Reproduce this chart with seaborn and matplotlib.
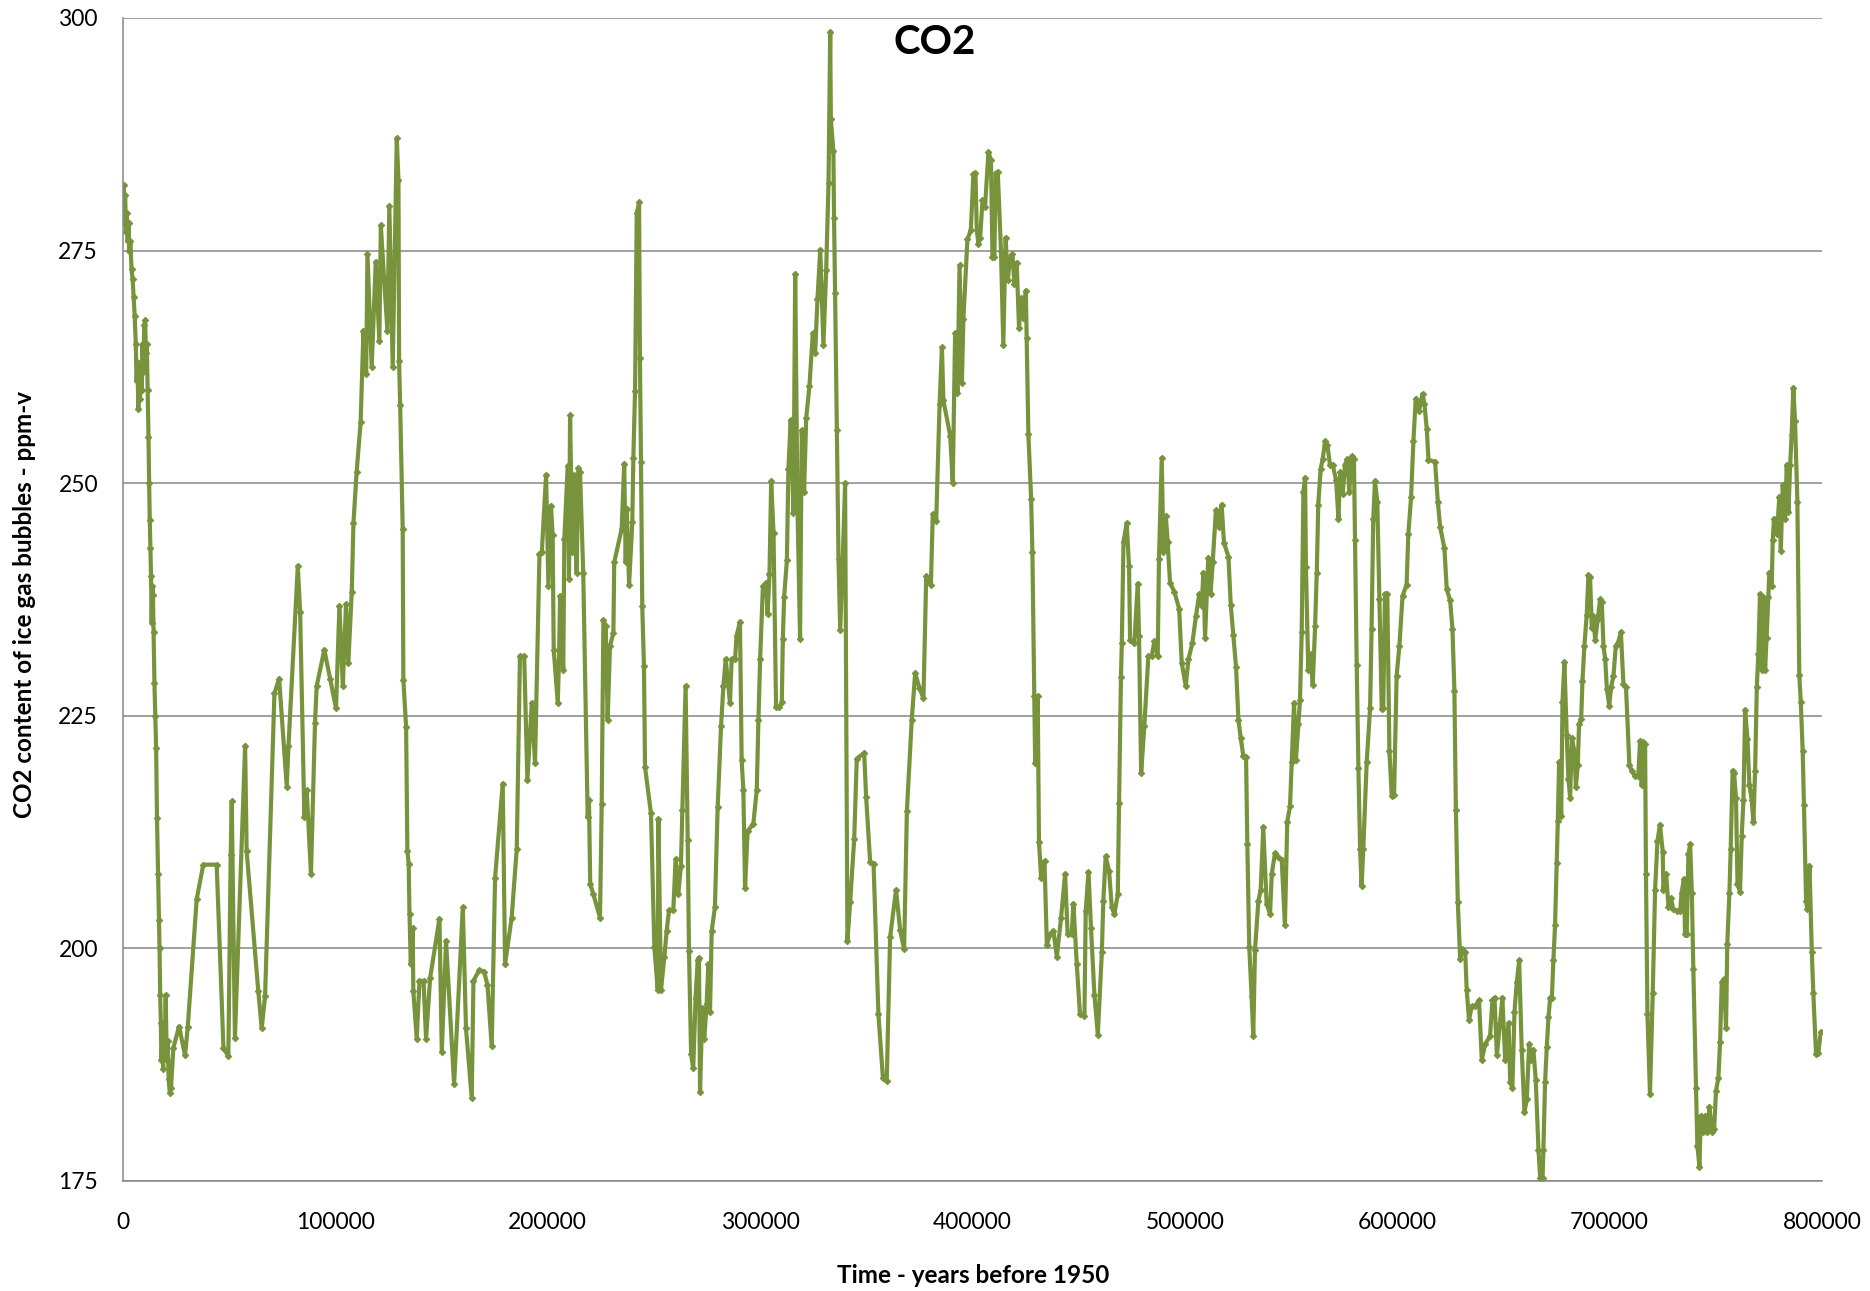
import matplotlib
matplotlib.use("Agg")
import matplotlib.pyplot as plt
import seaborn as sns
import pandas as pd

# ---- data: age (thousand years before 1950) and CO2 (ppm-v) ----
age_kyr = [
    0, 0.3, 0.6, 1.0, 1.4, 1.8, 2.2, 2.6, 3.0, 3.5, 4.0, 4.5, 5.0, 5.5, 6.0, 6.4, 6.8, 7.2, 7.6, 8.0,
    8.4, 8.8, 9.2, 9.6, 10.0, 10.4, 10.8, 11.2, 11.6, 12.0, 12.3, 12.6, 12.9, 13.2, 13.5, 13.8, 14.1, 14.4,
    14.8, 15.2, 15.6, 16.0, 16.5, 16.9, 17.2, 17.5, 17.8, 18.1, 18.5, 18.9, 19.3, 19.7, 20.1, 20.6, 21.0,
    21.5, 22.0, 22.6,
    23.7, 26.4, 29.2, 30.5, 34.7, 37.8, 44.1, 47.3, 49.6, 50.7, 51.2, 52.7, 57.5, 58.2, 63.7, 65.3, 66.9,
    71.3, 73.5, 77.1, 77.9, 82.3, 83.4, 85.4, 86.5, 88.5, 90.4, 91.2, 94.8, 97.5,
    100.3, 101.9, 103.5, 105.0, 106.1, 107.7, 108.5, 110.0, 111.9, 113.2, 114.5, 115.1, 117.1, 119.0,
    120.7, 121.4, 122.9, 124.5, 125.4, 127.0, 128.9, 129.7, 130.0, 130.5, 131.7, 132.0, 133.3, 133.9,
    134.5, 134.9, 135.5, 136.4, 136.7, 138.3, 139.6, 141.5, 142.7, 144.6, 149.0, 150.1, 152.1, 155.9,
    160.0, 161.5, 164.2, 165.0, 167.8, 170.0, 171.6, 173.6, 175.2, 178.8, 179.9, 183.0, 185.4, 186.9,
    188.9, 190.4, 192.5, 194.0, 196.1, 197.2, 199.2,
    200.3, 201.5, 202.3, 202.8, 204.7, 205.3, 205.8, 207.3, 207.8, 209.4, 210.0, 210.5, 211.6, 212.5,
    213.6, 214.4, 215.2, 216.7, 218.8, 219.4, 220.0, 221.5, 224.6, 225.4, 226.2, 227.3, 228.2, 229.3,
    230.9, 231.3, 234.8, 236.0, 236.7, 237.2, 238.3, 239.8, 240.3, 241.1, 241.9, 243.0, 243.4, 243.9,
    244.5, 245.3, 245.8, 248.6, 250.2, 251.8, 252.1, 253.3, 254.9, 256.0, 257.1, 259.1, 260.2, 261.5,
    262.7, 263.4, 264.9, 265.9, 266.5, 267.5, 268.5, 269.6, 270.6, 271.2, 271.7, 272.8, 273.7, 274.8,
    275.6, 276.4, 277.2, 278.7, 280.0, 281.6, 282.7, 283.8, 284.7, 285.8, 286.6, 288.2, 288.9, 290.5,
    291.3, 292.1, 292.9, 294.1, 296.8, 298.4, 299.2, 300.0,
    301.3, 302.8, 303.5, 304.4, 305.2, 306.3, 307.5, 309.1, 310.2, 310.7, 311.3, 312.6, 313.3, 314.4,
    315.7, 316.5, 317.6, 318.8, 319.6, 320.7, 321.7, 323.2, 324.8, 325.9, 327.0, 328.3, 329.8, 331.1,
    332.2, 333.0, 333.3, 334.5, 334.8, 335.3, 336.1, 336.9, 337.7, 338.9, 340.0, 341.1, 342.4, 344.3,
    345.5, 349.0, 349.9, 351.8, 353.4, 355.7, 357.8, 359.6, 361.2, 364.0, 365.9, 367.8, 369.1, 371.4,
    373.0, 375.0, 376.9, 378.2, 380.4, 381.3, 382.9, 384.5, 385.6, 386.3, 389.5, 390.7, 391.8, 392.9,
    393.9, 395.0, 395.7, 397.6, 399.2, 400.4,
    401.4, 402.0, 402.8, 403.6, 404.7, 405.9, 407.5, 408.7, 409.4, 410.3, 410.9, 411.9, 413.4, 414.5,
    415.6, 416.6, 417.7, 418.8, 419.7, 420.8, 421.9, 422.9, 424.0, 425.1, 425.5, 426.3, 427.6, 428.2,
    429.1, 429.5, 430.7, 431.3, 432.3, 433.9, 435.0, 436.5, 438.1, 439.7, 441.7, 443.6, 444.8, 446.7,
    447.5, 449.1, 450.6, 452.7, 453.3, 454.6, 455.8, 457.4, 459.0, 460.9, 461.6, 462.7, 464.3, 465.6,
    466.8, 468.4, 469.0, 469.9, 470.3, 471.1, 472.6, 473.7, 474.2, 476.2, 477.8, 478.4, 479.4, 480.9,
    482.8, 484.4, 485.6, 487.2, 487.8, 489.1, 489.9, 491.0, 491.9, 493.0, 495.1, 497.3, 498.5, 500.4,
    501.7, 503.5,
    505.2, 506.8, 507.9, 508.7, 509.5, 511.0, 512.1, 513.1, 514.6, 516.2, 517.3, 518.4, 520.5, 521.6,
    522.8, 524.1, 525.2, 526.3, 527.5, 528.8, 529.4, 530.3, 531.4, 532.2, 533.0, 534.6, 535.7, 536.9,
    538.5, 540.1, 540.9, 542.4, 544.0, 545.6, 547.1, 548.2, 549.5, 550.3, 551.4, 552.3, 553.4, 554.2,
    555.0, 555.8, 556.6, 557.0, 558.1, 559.2, 560.2, 561.3, 562.1, 562.8, 563.9, 564.9, 566.0, 567.1,
    568.3, 569.6, 571.2, 572.3, 573.1, 574.3, 575.4, 576.5, 577.4, 578.5, 579.6, 580.1, 580.9, 581.7,
    582.5, 583.2, 584.0, 585.6, 587.2, 587.9, 588.7, 589.5, 590.6, 591.6, 592.7, 593.4, 594.2, 595.3,
    596.3, 597.4, 598.5, 599.7, 601.0, 602.5, 604.4, 605.2,
    606.5, 607.6, 608.7, 610.3, 611.9, 612.8, 613.9, 614.7, 617.8, 619.1, 620.2, 622.2, 623.3, 624.9,
    626.0, 626.9, 627.6, 628.5, 629.6, 630.7, 632.0, 632.7, 633.8, 635.1, 636.7, 638.5, 639.8, 641.4,
    643.7, 644.8, 645.8, 646.9, 648.4, 649.5, 650.8, 652.4, 653.2, 654.2, 655.2, 656.3, 657.4, 658.6,
    659.9, 661.0, 662.1, 663.0, 664.1, 665.2, 666.5, 667.3, 668.4, 668.8, 669.6, 670.4, 671.2, 672.0,
    672.8, 673.5, 674.3, 675.1, 675.6, 676.2, 677.2, 677.8, 678.7, 679.8, 680.6, 681.4, 682.2, 683.4,
    684.1, 685.0, 685.6, 686.6, 687.2, 688.1, 689.2, 690.0, 690.8, 691.6, 692.4, 693.2, 694.4, 695.5,
    696.3, 697.1, 697.9, 698.7, 699.8, 700.7, 701.8, 702.9, 703.9, 705.3,
    706.5, 707.7, 709.3, 710.4, 712.0, 713.5, 714.3, 715.1, 715.6, 716.7, 717.1, 717.8, 719.0, 720.3,
    721.4, 722.5, 723.7, 725.0, 725.3, 726.6, 727.7, 728.8, 730.0, 731.9, 733.2, 733.9, 735.0, 735.5,
    736.3, 737.1, 737.9, 738.7, 739.4, 740.7, 741.3, 742.3, 742.9, 743.8, 744.9, 746.0, 747.0, 748.1,
    749.2, 750.1, 751.2, 752.0, 752.8, 753.9, 754.8, 755.4, 756.4, 757.0, 757.9, 758.6, 759.5, 760.2,
    761.4, 762.2, 763.0, 763.8, 764.9, 765.8, 766.9, 767.7, 768.5, 769.3, 770.0, 770.8, 771.6, 772.4,
    773.2, 773.9, 774.7, 775.2, 776.3, 776.8, 777.4, 778.7, 779.9, 780.6, 781.5, 782.6, 783.4, 784.2,
    785.0, 785.7, 786.5, 787.3, 788.4, 789.3, 790.0, 790.9, 791.5, 792.5, 793.1, 794.1, 795.2, 795.9,
    797.2, 798.3, 799.4,
]

co2_ppm = [
    280, 282, 278, 281, 277, 279, 276, 278, 275, 276, 273, 272, 270, 268, 265, 261, 263, 258, 262, 259,
    263, 260, 265, 262, 267, 267.5, 264, 265, 260, 255, 250, 246, 243, 240, 235, 239, 238, 234,
    228.5, 225, 221.5, 214, 208, 203, 200, 195, 192, 188, 190, 187, 192, 189, 195, 188, 190,
    186, 184.5, 185,
    189.3, 191.6, 188.5, 191.6, 205.3, 209, 209, 189.3, 188.4, 210, 215.8, 190.4, 221.8, 210.5, 195.4, 191.4, 194.9,
    227.4, 229, 217.4, 221.7, 241.1, 236.2, 214.1, 217, 208, 224.2, 228.2, 232.1, 229,
    225.8, 236.8, 228.2, 237, 230.7, 238.3, 245.7, 251.2, 256.6, 266.4, 261.7, 274.6, 262.5, 273.8,
    265.3, 277.7, 272.1, 266.4, 279.8, 262.5, 287.1, 282.6, 263.1, 258.4, 245.1, 228.9, 223.8, 210.5,
    209.1, 203.7, 198.3, 202.2, 195.4, 190.3, 196.5, 196.5, 190.3, 196.8, 203.2, 188.9, 200.8, 185.4,
    204.4, 191.4, 183.9, 196.5, 197.7, 197.5, 196.1, 189.5, 207.6, 217.7, 198.3, 203.3, 210.7, 231.4,
    231.4, 218.1, 226.4, 219.9, 242.4, 242.6, 250.9,
    239, 247.6, 244.4, 232.1, 226.4, 231, 237.9, 229.9, 244, 251.9, 239.7, 257.3, 242.6, 250.9,
    240.4, 251.6, 251.2, 240.4, 214.1, 215.9, 206.9, 205.8, 203.3, 215.5, 235.3, 234.6, 224.6, 232.5,
    233.9, 241.5, 245.1, 252.1, 241.5, 247.2, 239.1, 245.8, 252.7, 259.9, 279, 280.2, 263.5, 252.3,
    236.8, 230.3, 219.5, 214.5, 200.1, 195.5, 213.9, 195.5, 199.1, 201.9, 204.1, 204.1, 209.6, 205.9,
    208.9, 214.9, 228.2, 211.6, 199.7, 188.6, 187.1, 194.7, 198.8, 199, 184.6, 193.6, 190.3, 194,
    198.3, 193.2, 201.9, 204.4, 215.2, 223.9, 228.2, 231.1, 228.9, 226.4, 231.1, 231.1, 233.6, 235.1,
    220.2, 217, 206.5, 212.6, 213.4, 217, 224.6, 231.1,
    238.9, 239.3, 235.9, 240.2, 250.2, 244.7, 225.9, 225.9, 226.5, 233.3, 237.8, 241.7, 251.5, 256.8,
    246.8, 272.5, 247.2, 233.3, 255.7, 249.1, 257, 260.4, 266.1, 264, 269.8, 275.1, 264.9, 272.9,
    282.3, 298.5, 289.1, 285.7, 278.5, 270.4, 255.7, 241.9, 234.2, 241.9, 250, 200.8, 205, 211.8,
    220.4, 221, 216.3, 209.3, 209.1, 192.9, 186.1, 185.7, 201.2, 206.3, 202, 199.9, 214.8, 224.6,
    229.6, 228, 226.9, 240, 239.1, 246.7, 245.9, 258.5, 264.6, 258.9, 255.1, 250, 266.1, 259.7,
    273.4, 260.8, 267.6, 276.2, 277.2, 283.2,
    283.3, 277.2, 275.7, 276.4, 280.4, 279.7, 285.6, 284.7, 274.3, 274.3, 283.3, 283.4, 275, 264.9,
    276.4, 271.8, 274.3, 274.6, 271.4, 273.7, 266.7, 269.9, 267.8, 270.7, 265.6, 255.3, 248.3, 242.6,
    227.1, 219.9, 227.1, 211.4, 207.6, 209.4, 200.4, 201.5, 201.9, 199.1, 203.3, 208, 201.5, 201.5,
    204.8, 198.3, 192.9, 192.7, 204, 208.2, 202.2, 195, 190.7, 199.6, 205.1, 209.9, 208.3, 204.4,
    203.7, 205.8, 215.6, 229.2, 232.8, 243.7, 245.7, 241.1, 233.2, 232.8, 239.2, 233.6, 218.8, 223.9,
    231.4, 231.4, 233, 231.4, 241.9, 252.7, 242.6, 246.5, 243.7, 239.3, 238.3, 236.5, 230.7, 228.2,
    231.1, 232.8,
    235.7, 238.1, 236.8, 240.4, 233.4, 242, 238.1, 241.5, 247.1, 245.3, 247.7, 243.6, 242.1, 236.9,
    233.7, 230.2, 224.6, 222.6, 220.7, 220.6, 211.2, 200.2, 194.9, 190.6, 199.8, 205.1, 206.3, 213,
    204.8, 203.7, 208, 210.2, 209.8, 209.5, 202.5, 213.6, 215.3, 220, 226.4, 220.3, 224.1, 226.7,
    234, 249.1, 250.6, 241, 229.9, 231.6, 228.3, 234.6, 240.4, 247.7, 251.5, 252.6, 254.5, 254.1,
    252, 252, 250.3, 246.2, 251.2, 248.8, 252, 252.6, 249.1, 252.9, 252.6, 243.9, 230.5, 219.4,
    210.7, 206.7, 210.7, 220, 225.8, 234.3, 246.2, 250.2, 248, 237.5, 225.7, 225.8, 238.1, 238.1,
    221.2, 216.4, 216.5, 229.3, 232.5, 237.9, 239.1, 244.5,
    248.5, 254.5, 259.1, 257.8, 259.6, 258.5, 255.8, 252.5, 252.3, 248, 245.3, 243, 238.6, 237.4,
    234.3, 227.7, 214.9, 205, 198.9, 199.9, 199.6, 195.5, 192.3, 193.8, 193.8, 194.4, 188, 189.7,
    190.6, 194.4, 194.7, 188.5, 192, 194.7, 188, 192, 185.6, 185, 193.2, 196.4, 198.7, 189.1,
    182.4, 183.8, 189.7, 188, 189.1, 185.9, 178.3, 175.3, 175.3, 178.3, 185.6, 189.4, 192.6, 194.7,
    194.7, 198.7, 202.5, 209.2, 213.7, 220, 214.2, 226.5, 230.8, 222.9, 218.2, 216.2, 222.6, 221.2,
    217.4, 219.7, 224.1, 224.7, 228.7, 232.5, 235.8, 240.1, 239.9, 234.4, 235.7, 233.1, 235.4, 237.5,
    237.2, 232.5, 231.1, 227.9, 226.1, 228.1, 229.3, 232.5, 232.8, 234,
    228.4, 228.1, 219.7, 219.1, 218.5, 218.5, 222.3, 217.6, 222.2, 222, 208, 192.9, 184.4, 195.2,
    206.3, 211.5, 213.3, 210.4, 206.3, 208, 204.5, 205.4, 204.2, 204, 204, 206, 207.5, 201.5,
    201.6, 210.1, 211.2, 206, 197.8, 185, 178.8, 176.5, 182, 180.3, 182, 180.3, 183, 180.3,
    180.6, 184.7, 186.1, 189.9, 196.4, 196.7, 191.4, 200.5, 206, 210.7, 219.1, 218.8, 216.2, 206.9,
    206.1, 212.1, 215.9, 225.6, 222.5, 217.6, 215.9, 213.6, 219.1, 228.1, 231.6, 238.1, 229.9, 237.8,
    229.9, 233.4, 237.8, 240.4, 238.9, 243.9, 246.2, 244.5, 248.5, 242.7, 249.8, 246.2, 252, 246.9,
    252, 255.2, 260.2, 256.7, 248, 229.4, 226.5, 221.2, 215.4, 205.1, 204.2, 208.9, 199.6, 195.2,
    188.6, 188.8, 191,
]

x_ticks = [0, 100000, 200000, 300000, 400000, 500000, 600000, 700000, 800000]
x_tick_labels = ["0", "100000", "200000", "300000", "400000", "500000", "600000", "700000", "800000"]
y_ticks = [175, 200, 225, 250, 275, 300]
y_tick_labels = ["175", "200", "225", "250", "275", "300"]

title_text = "CO2"
x_label = "Time - years before 1950"
y_label = "CO2 content of ice gas bubbles - ppm-v"

# ---- styling ----
sns.set_style("white")
plt.rcParams["font.family"] = ["Lato", "DejaVu Sans"]

LINE = "#77933C"
GRID = "#868686"

n = min(len(age_kyr), len(co2_ppm))
df = pd.DataFrame({"years": [a * 1000 for a in age_kyr[:n]], "co2": co2_ppm[:n]})

fig = plt.figure(figsize=(18.70, 12.91), dpi=100)
ax = fig.add_axes([0.06578, 0.08521, 0.90856, 0.90085])

sns.lineplot(data=df, x="years", y="co2", ax=ax, color=LINE, linewidth=3.0,
             marker="D", markersize=3.4, markeredgewidth=0.6, markeredgecolor=LINE,
             sort=False, estimator=None)

ax.set_xlim(0, 800000)
ax.set_ylim(175, 300)
ax.set_xticks(x_ticks)
ax.set_xticklabels(x_tick_labels)
ax.set_yticks(y_ticks)
ax.set_yticklabels(y_tick_labels)

ax.yaxis.grid(True, color=GRID, linewidth=1.1)
ax.xaxis.grid(False)
ax.set_axisbelow(True)
for s in ["top", "right"]:
    ax.spines[s].set_visible(False)
for s in ["left", "bottom"]:
    ax.spines[s].set_color(GRID)
    ax.spines[s].set_linewidth(1.1)

ax.tick_params(axis="both", direction="out", length=6, width=1.1, color=GRID,
               labelsize=16.5, labelcolor="black")
ax.tick_params(axis="y", pad=12)
ax.tick_params(axis="x", pad=16)
ax.set_xlabel("")
ax.set_ylabel("")

fig.text(0.5, 1 - 42 / 1291, title_text, ha="center", va="center",
         fontsize=29, fontweight="bold", color="black")
fig.text(973 / 1870, 1 - 1283 / 1291, x_label, ha="center", va="baseline",
         fontsize=17.5, fontweight="bold", color="black")
fig.text(25 / 1870, 1 - 604 / 1291, y_label, ha="center", va="center", rotation=90,
         fontsize=17.5, fontweight="bold", color="black")

fig.savefig("out.png", dpi=100, facecolor="white")
